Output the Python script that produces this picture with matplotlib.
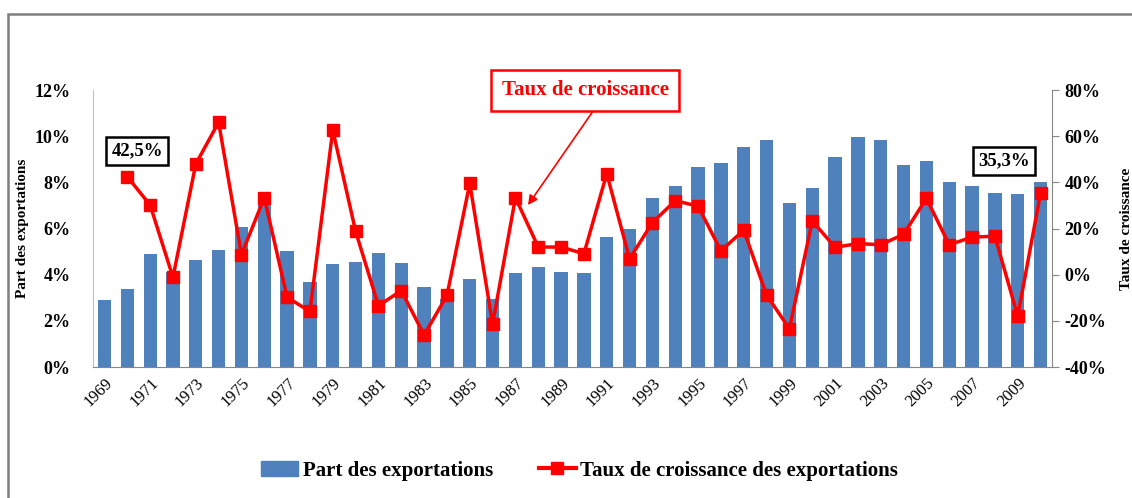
import matplotlib
matplotlib.use('Agg')
import matplotlib.pyplot as plt
import matplotlib.transforms as mtransforms
from matplotlib.patches import Rectangle
from matplotlib.lines import Line2D
from matplotlib.ticker import FuncFormatter, MultipleLocator
import numpy as np

plt.rcParams['font.family'] = ['Liberation Serif', 'DejaVu Serif']

BLUE = '#4F81BD'
RED = '#FF0000'
GRAY = '#868686'

# ===== Data =====
years = list(range(1969, 2011))

# part des exportations (%)
part = [2.92, 3.40, 4.90, 4.10, 4.66, 5.07, 6.09, 7.07, 5.02, 3.69,
        4.45, 4.54, 4.95, 4.50, 3.47, 2.95, 3.81, 2.95, 4.06, 4.34,
        4.13, 4.06, 5.64, 5.99, 7.34, 7.85, 8.66, 8.83, 9.52, 9.85,
        7.12, 7.78, 9.11, 9.96, 9.85, 8.75, 8.95, 8.02, 7.85, 7.53,
        7.49, 8.02]

# taux de croissance des exportations (%), starts in 1970
growth = [42.5, 30.2, -1.1, 48.0, 66.1, 8.7, 33.4, -9.8, -15.9,
          62.7, 18.8, -13.4, -6.9, -26.1, -9.0, 39.6, -21.4, 33.4, 12.0,
          12.0, 9.1, 43.8, 6.9, 22.6, 32.1, 29.7, 10.4, 19.3, -8.8,
          -23.4, 23.3, 11.9, 13.5, 13.0, 17.5, 33.1, 13.0, 16.3, 16.7,
          -17.9, 35.3]

fig = plt.figure(figsize=(11.32, 4.98), dpi=100)
ax1 = fig.add_axes([0.0822, 0.263, 0.8471, 0.556])

x = np.arange(len(years))
ax1.bar(x, part, width=0.58, color=BLUE, zorder=2)
ax1.set_xlim(-0.5, len(years) - 0.5)
ax1.set_ylim(0, 12)
ax1.yaxis.set_major_locator(MultipleLocator(2))
ax1.yaxis.set_major_formatter(FuncFormatter(lambda v, p: f'{v:.0f}%'))
ax1.set_xticks(x[::2])
ax1.set_xticklabels([str(y) for y in years[::2]], rotation=45, ha='right',
                    rotation_mode='anchor', fontsize=12)
shift = mtransforms.ScaledTranslation(-5 / 100, 0, fig.dpi_scale_trans)
for lbl in ax1.get_xticklabels():
    lbl.set_transform(lbl.get_transform() + shift)
ax1.tick_params(axis='both', length=0)
ax1.tick_params(axis='x', pad=6)
ax1.tick_params(axis='y', pad=16)
for lbl in ax1.get_yticklabels():
    lbl.set_fontweight('bold')
    lbl.set_fontsize(13)
ax1.set_ylabel('Part des exportations', fontsize=11, fontweight='bold', labelpad=4)
for s in ['top', 'right']:
    ax1.spines[s].set_visible(False)
ax1.spines['left'].set_color('#BFBFBF')
ax1.spines['bottom'].set_color(GRAY)

ax2 = ax1.twinx()
ax2.plot(x[1:], growth, '-s', color=RED, linewidth=2.5, markersize=8.5, zorder=3)
ax2.set_ylim(-40, 80)
ax2.yaxis.set_major_locator(MultipleLocator(20))
ax2.yaxis.set_major_formatter(FuncFormatter(lambda v, p: f'{v:.0f}%'))
ax2.tick_params(axis='y', length=5, color=GRAY, direction='out', pad=4)
for lbl in ax2.get_yticklabels():
    lbl.set_fontweight('bold')
    lbl.set_fontsize(13)
for s in ['top', 'left', 'bottom']:
    ax2.spines[s].set_visible(False)
ax2.spines['right'].set_color(GRAY)
ax2.set_ylabel('Taux de croissance', fontsize=11, fontweight='bold',
               rotation=90, labelpad=10)

# value boxes
ax2.text(1.43, 53.7, '42,5%', ha='center', va='center', fontsize=13.5,
         fontweight='bold',
         bbox=dict(boxstyle='square,pad=0.3', fc='white', ec='black', lw=1.8))
ax2.text(39.4, 49.3, '35,3%', ha='center', va='center', fontsize=13.5,
         fontweight='bold',
         bbox=dict(boxstyle='square,pad=0.3', fc='white', ec='black', lw=1.8))

# arrow annotation
ax2.text(21.05, 79.9, 'Taux de croissance', ha='center', va='center',
         fontsize=15, fontweight='bold', color=RED, clip_on=False,
         bbox=dict(boxstyle='square,pad=0.5', fc='white', ec=RED, lw=1.8))
ax2.annotate('', xy=(18.55, 30.2), xytext=(21.35, 70.2),
             arrowprops=dict(arrowstyle='-|>', color=RED, lw=1.2,
                             shrinkA=0, shrinkB=0, mutation_scale=14),
             annotation_clip=False)

# legend
handles = [Rectangle((0, 0), 1, 1, color=BLUE),
           Line2D([], [], color=RED, linewidth=3, marker='s', markersize=8)]
fig.legend(handles, ['Part des exportations', 'Taux de croissance des exportations'],
           loc='center', bbox_to_anchor=(0.512, 0.055), ncol=2, frameon=False,
           prop=dict(size=15, weight='bold'), handlelength=1.8, handletextpad=0.2,
           columnspacing=2.2)

# outer chart frame
fig.patches.append(Rectangle((8 / 1132, -0.1), 1.2, 1.1 - 14 / 498,
                             transform=fig.transFigure, fill=False,
                             edgecolor='#7F7F7F', linewidth=1.8))

plt.savefig('out.png', dpi=100)
plt.close()
